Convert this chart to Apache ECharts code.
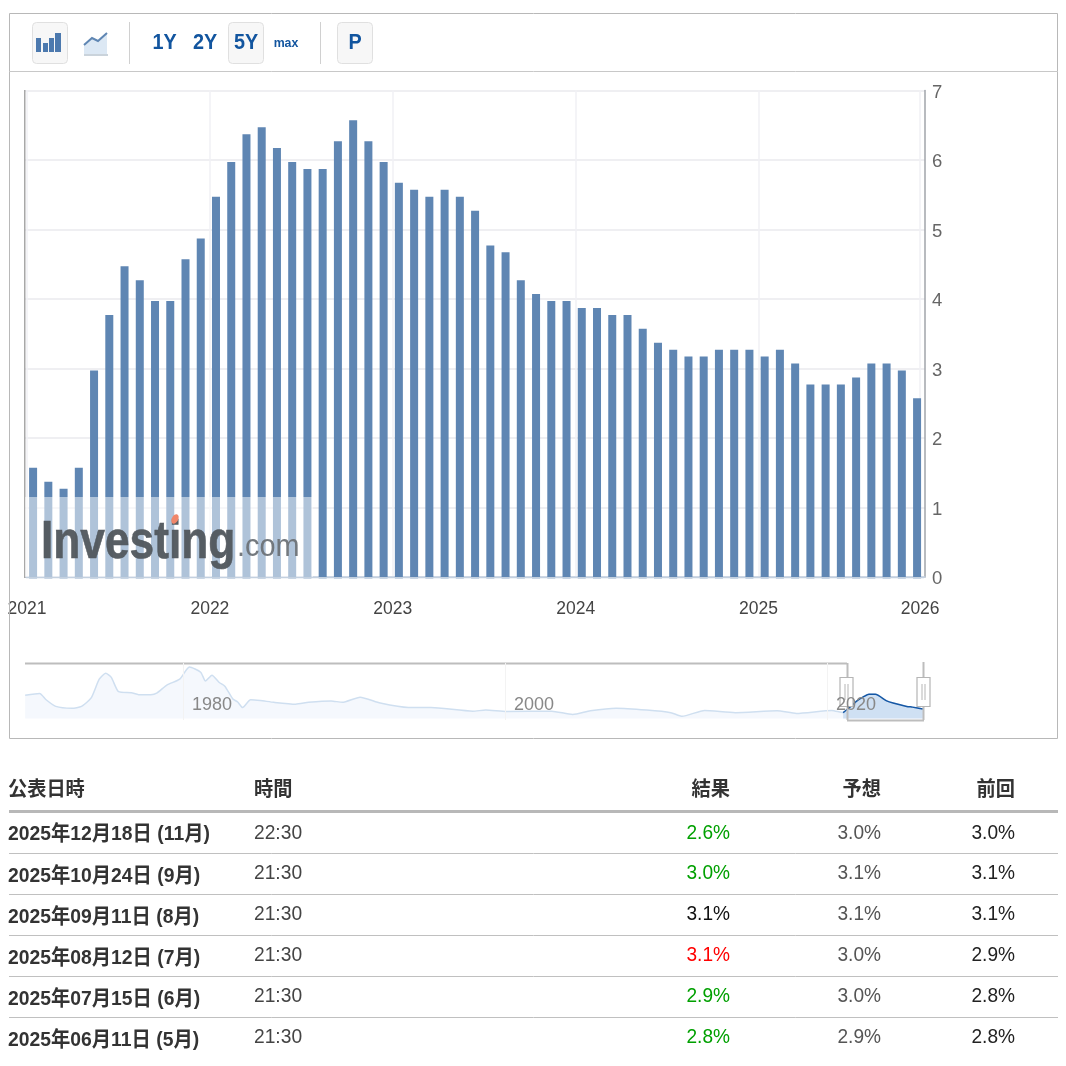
<!DOCTYPE html>
<html><head><meta charset="utf-8">
<style>html,body{margin:0;padding:0;background:#fff}#c{width:1066px;height:1066px}</style>
<script src="https://cdn.jsdelivr.net/npm/echarts@6/dist/echarts.min.js"></script>
</head><body><div id="c"></div>
<script>
const months = [];
for (let y = 2021; y <= 2025; y++) for (let m = 1; m <= 12; m++) if (months.length < 59) months.push(y + '-' + String(m).padStart(2, '0'));
const coreCpi = [1.6,1.4,1.3,1.6,3.0,3.8,4.5,4.3,4.0,4.0,4.6,4.9,5.5,6.0,6.4,6.5,6.2,6.0,5.9,5.9,6.3,6.6,6.3,6.0,5.7,5.6,5.5,5.6,5.5,5.3,4.8,4.7,4.3,4.1,4.0,4.0,3.9,3.9,3.8,3.8,3.6,3.4,3.3,3.2,3.2,3.3,3.3,3.3,3.2,3.3,3.1,2.8,2.8,2.8,2.9,3.1,3.1,3.0,2.6];
const yearTicks = [0, 12, 24, 36, 48, 58.6];
const yearLabels = ['2021','2022','2023','2024','2025','2026'];
const navYears = [1970.2,1971.1,1971.5,1972.1,1973.1,1973.7,1974.3,1974.8,1975.2,1975.55,1976,1976.8,1977.25,1978,1978.4,1979,1979.8,1980.4,1981.1,1981.4,1981.8,1982.25,1982.6,1983.1,1983.4,1983.7,1984.2,1984.8,1985.65,1987,1987.8,1989.2,1989.9,1991,1992.25,1994,1995.4,1998,1998.8,2000.1,2002.9,2004.2,2005.3,2006.9,2008.8,2010.3,2011,2012.4,2014.3,2016.9,2018.1,2020.3,2021,2021.4,2021.8,2022.3,2022.6,2023,2023.7,2024.1,2024.95,2025.3,2025.95];
const navValues = [6.3,6.8,5.1,3.3,2.8,3.3,5.6,10.7,12.3,11.2,7.3,7.0,6.5,6.5,7.0,9.1,10.7,14.0,12.6,10.2,11.8,9.8,8.8,5.3,4.5,3.0,5.1,4.9,4.4,3.9,4.4,4.8,4.4,5.8,4.2,3.0,3.0,2.0,2.3,1.9,2.0,1.1,2.1,2.8,2.3,1.6,0.6,2.2,1.6,2.1,1.4,2.2,1.6,3.0,4.6,6.0,6.6,6.6,4.8,4.2,3.3,3.1,2.6];
const navTicks = [1980, 2000, 2020];
const navWindowStart = 2021;
const rangeButtons = ['1Y','2Y','5Y','max','P'];
const tableHeaders = ['公表日時','時間','結果','予想','前回'];
const tableDates = ['2025年12月18日 (11月)','2025年10月24日 (9月)','2025年09月11日 (8月)','2025年08月12日 (7月)','2025年07月15日 (6月)','2025年06月11日 (5月)'];
const tableTimes = ['22:30','21:30','21:30','21:30','21:30','21:30'];
const tableActual = ['2.6%','3.0%','3.1%','3.1%','2.9%','2.8%'];
const tableForecast = ['3.0%','3.1%','3.1%','3.0%','3.0%','2.9%'];
const tablePrevious = ['3.0%','3.1%','3.1%','2.9%','2.8%','2.8%'];
const actualTone = ['beat','beat','flat','miss','beat','beat'];

const FONT = '"Liberation Sans", Arial, sans-serif';
const CJK = '"Liberation Sans", "Noto Sans CJK JP", sans-serif';
const toneColor = {beat:'#00a000', flat:'#111', miss:'#ff0000'};
const G = [];
const txt = (x, y, text, o = {}) => G.push({type:'text', x, y, z:o.z||50, scaleX:o.sx||1, scaleY:o.sy||1, style:{text, fill:o.fill||'#333', font:(o.w||'normal')+' '+(o.s||20)+'px '+(o.f||CJK), textAlign:o.a||'left', textVerticalAlign:'middle', opacity:o.op==null?1:o.op, shadowBlur:o.blur||0, shadowColor:o.fill||'#333', stroke:o.stroke||null, lineWidth:o.slw||0}});
const rect = (x, y, w, h, o = {}) => G.push({type:'rect', z:o.z||40, shape:{x, y, width:w, height:h, r:o.r||0}, style:{fill:o.fill||'none', stroke:o.stroke||null, lineWidth:o.lw||1, opacity:o.op==null?1:o.op}});
const line = (x1, y1, x2, y2, c, lw = 1, z = 40) => G.push({type:'line', z, shape:{x1, y1, x2, y2}, style:{stroke:c, lineWidth:lw}});

// outer frame + toolbar
rect(9.5, 13.5, 1048, 725, {stroke:'#b8b8b8', lw:1, z:1});
line(9, 71.5, 1058, 71.5, '#c8c8c8', 1);
[[32,22],[228,22],[337,22]].forEach(([x,y]) => rect(x+.5, y+.5, 35, 41, {fill:'#f7f7f7', stroke:'#e0e0e0', r:4}));
line(129.5, 22, 129.5, 64, '#d0d0d0'); line(320.5, 22, 320.5, 64, '#d0d0d0');
[[36,38,5,14],[43,43,5,9],[49,38,5,14],[55,33,6,19]].forEach(([x,y,w,h]) => rect(x, y, w, h, {fill:'#4c79ae'}));
G.push({type:'polygon', z:41, shape:{points:[[84,45],[92,38],[98,41],[107,33],[107,54],[84,54]]}, style:{fill:'#dce8f4'}});
G.push({type:'polyline', z:42, shape:{points:[[84,45],[92,38],[98,41],[107,33]]}, style:{stroke:'#5f86b3', lineWidth:2, fill:null}});
line(84, 55, 108, 55, '#b8c4cf', 1.5, 42);
const btnX = [164.5, 205, 246, 286, 355];
rangeButtons.forEach((b, i) => txt(btnX[i], 43, b, {a:'center', w:'bold', s:b === 'max' ? 13 : 22, fill:'#12559f', f:FONT, sx:b === 'max' ? .95 : .9}));

// plot frame
line(24.75, 90, 24.75, 578, '#a8a8a8', 1.5, 30);
// foot of the bars and axis line
rect(26, 577, 898, 1.5, {fill:'#c3d0df', z:20});
rect(26, 578.5, 898, 3, {fill:'#ffffff', z:20});

// watermark
rect(25, 497, 288, 80, {fill:'#ffffff', op:.5, z:60});
txt(41, 543, 'Investing', {w:'bold', s:54, fill:'#50565c', f:FONT, sx:.82, z:61, blur:2, op:.95, stroke:'#50565c', slw:.6});
txt(237, 547, '.com', {s:31, fill:'#6d7277', f:FONT, z:61, sx:.93, op:.95});
G.push({type:'ellipse', z:62, shape:{cx:175, cy:519, rx:3.2, ry:5}, rotation:-.5, originX:175, originY:519, style:{fill:'#f0866a'}});

// navigator furniture (below the axis labels, which are drawn on top)
line(25, 663.5, 847, 663.5, '#bdbdbd', 2, 6);
line(847.5, 663, 847.5, 720, '#bdbdbd', 2, 6);
line(923.5, 662, 923.5, 720, '#bdbdbd', 2, 6);
line(847, 720.5, 924, 720.5, '#bdbdbd', 2, 6);
[846.5, 923.5].forEach(cx => {
  rect(cx-6.5, 677.5, 13, 29, {fill:'#ffffff', stroke:'#b5b5b5', lw:1.2, z:7});
  line(cx-1.5, 684, cx-1.5, 700, '#b5b5b5', 1, 8);
  line(cx+1.5, 684, cx+1.5, 700, '#b5b5b5', 1, 8);
});

// table
const colX = [8, 254, 730, 881, 1015];
const colA = ['left','left','right','right','right'];
tableHeaders.forEach((h, i) => txt(colX[i], 790, h, {a:colA[i], w:'bold', s:20, sx:.96, fill:'#333'}));
line(9, 811.5, 1058, 811.5, '#b8b8b8', 3);
const dateY = [834, 876, 917, 958, 999, 1040];
const valueY = [833, 873, 914, 955, 996, 1037];
const ruleY = [853.5, 894.5, 935.5, 976.5, 1017.5];
ruleY.forEach(y => line(9, y, 1058, y, '#c0c0c0', 1));
tableDates.forEach((d, i) => {
  txt(colX[0], dateY[i], d, {w:'bold', s:21, sx:.92, fill:'#333'});
  txt(colX[1], valueY[i], tableTimes[i], {s:21, sx:.915, fill:'#444'});
  txt(colX[2], valueY[i], tableActual[i], {a:'right', s:21, sx:.91, fill:toneColor[actualTone[i]]});
  txt(colX[3], valueY[i], tableForecast[i], {a:'right', s:21, sx:.91, fill:'#555'});
  txt(colX[4], valueY[i], tablePrevious[i], {a:'right', s:21, sx:.91, fill:'#222'});
});

const monthPos = m => { const [y, mo] = m.split('-').map(Number); return (y - 2021) * 12 + (mo - 1) + 0.4; };
const barData = months.map((m, i) => [monthPos(m), coreCpi[i]]);
const navData = navYears.map((y, i) => [y, navValues[i]]);
const navSel = navData.filter(p => p[0] >= navWindowStart);

const chart = echarts.init(document.getElementById('c'), null, {renderer:'canvas', width:1066, height:1066});
chart.setOption({
  animation:false, backgroundColor:'#fff',
  grid:[
    {left:25, top:90.5, width:900, height:486.5},
    {left:25, top:663, width:898, height:57},
    {left:25, top:92.5, width:900, height:486.5}
  ],
  xAxis:[
    {gridIndex:0, type:'value', min:-0.131, max:58.92,
     axisLine:{show:true, onZero:false, lineStyle:{color:'#c3d0df', width:1.5}},
     axisTick:{show:false, customValues:yearTicks},
     splitLine:{show:true, lineStyle:{color:'#f1f1f4', width:1.5}},
     axisLabel:{customValues:yearTicks, margin:23, color:'#444', fontSize:17.5, fontFamily:FONT,
       formatter:v => yearLabels[yearTicks.indexOf(v)]}},
    {gridIndex:1, type:'value', min:1970.19, max:2025.96, z:10,
     axisLine:{show:false}, axisTick:{show:false, customValues:navTicks},
     splitLine:{show:true, lineStyle:{color:'#f3f3f3', width:1}},
     axisLabel:{customValues:navTicks, inside:true, align:'left', margin:6, color:'#888', fontSize:18, fontFamily:FONT, padding:[0,0,0,9],
       formatter:v => String(v)}},
    {gridIndex:2, type:'value', min:-0.131, max:58.92, show:false}
  ],
  yAxis:[
    {gridIndex:0, type:'value', position:'right', min:0, max:7, interval:1,
     axisLine:{show:true, onZero:false, lineStyle:{color:'#a0a4aa', width:1.5}}, axisTick:{show:false},
     splitLine:{show:true, lineStyle:{color:'#efeff2', width:2}},
     axisLabel:{show:false}},
    {gridIndex:1, type:'value', min:-0.4, max:15.1, show:false, splitLine:{show:false}},
    {gridIndex:2, type:'value', position:'right', min:0, max:7, interval:1, axisLine:{show:false}, axisTick:{show:false}, splitLine:{show:false},
     axisLabel:{margin:7, color:'#666', fontSize:18.5, fontFamily:FONT}}
  ],
  series:[
    {type:'bar', xAxisIndex:2, yAxisIndex:2, data:barData, barWidth:8, itemStyle:{color:'#5f86b3'}, silent:true},
    {type:'line', xAxisIndex:1, yAxisIndex:1, data:navData, symbol:'none', smooth:.2,
     lineStyle:{color:'#cfdff0', width:1.5}, areaStyle:{color:'#f5f8fd', opacity:1}, silent:true},
    {type:'line', xAxisIndex:1, yAxisIndex:1, data:navSel, symbol:'none', smooth:.2,
     lineStyle:{color:'#1557a5', width:1.5}, areaStyle:{color:'#cfe0f3', opacity:1}, silent:true}
  ],
  graphic:{elements:G}
});
</script></body></html>
